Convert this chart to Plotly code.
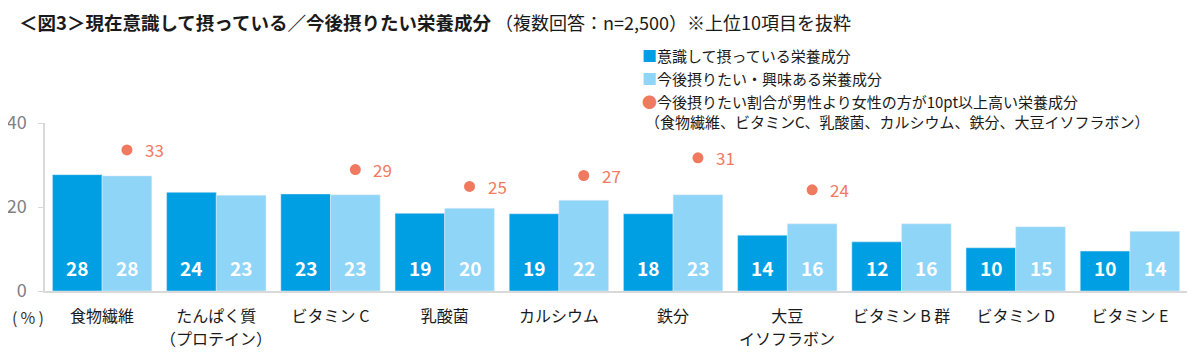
import plotly.graph_objects as go

categories = ["食物繊維", "たんぱく質（プロテイン）", "ビタミンC", "乳酸菌", "カルシウム",
              "鉄分", "大豆イソフラボン", "ビタミンB群", "ビタミンD", "ビタミンE"]
tick_labels = ["食物繊維", "たんぱく質", "ビタミン C", "乳酸菌", "カルシウム",
               "鉄分", "大豆", "ビタミン B 群", "ビタミン D", "ビタミン E"]
tick_labels_line2 = ["", "（プロテイン）", "", "", "", "", "イソフラボン", "", "", ""]
current_vals = [27.7, 23.5, 23.1, 18.5, 18.4, 18.4, 13.3, 11.7, 10.3, 9.5]
current_labels = [28, 24, 23, 19, 19, 18, 14, 12, 10, 10]
future_vals = [27.4, 22.8, 22.9, 19.7, 21.6, 22.9, 16.0, 16.0, 15.3, 14.2]
future_labels = [28, 23, 23, 20, 22, 23, 16, 16, 15, 14]
dot_index = [0, 2, 3, 4, 5, 6]
dot_vals = [33.6, 28.9, 24.9, 27.5, 31.7, 24.1]
dot_labels = [33, 29, 25, 27, 31, 24]

DARK = "#009FE3"
LIGHT = "#8FD5F7"
SALMON = "#F07A5F"
FONT = "Noto Sans CJK JP"
BARGAP = 0.13

# page body has an 8px default margin; work in screenshot coordinates and subtract it
OFF = 8
W, H = 1200 - OFF, 358 - OFF
L, T = 45 - OFF, 122.7 - OFF
R = W - (1187 - OFF)
B = H - (290.7 - OFF)
PW, PH = W - L - R, H - T - B


def px(xs):
    return (xs - OFF - L) / PW


def py(ys):
    return 1 - (ys - OFF - T) / PH


x = list(range(len(categories)))
fig = go.Figure()
fig.add_trace(go.Bar(x=x, y=current_vals, marker_color=DARK, name="意識して摂っている栄養成分"))
fig.add_trace(go.Bar(x=x, y=future_vals, marker_color=LIGHT, name="今後摂りたい・興味ある栄養成分"))

off = (1 - BARGAP) / 4
dot_x = [i + off for i in dot_index]
fig.add_trace(go.Scatter(x=dot_x, y=dot_vals, mode="markers",
                         marker=dict(color=SALMON, size=11), showlegend=False))

for i in x:
    for xx, lab in ((i - off, current_labels[i]), (i + off, future_labels[i])):
        fig.add_annotation(x=xx, y=5.6, text=f"<b>{lab}</b>", showarrow=False,
                           font=dict(color="white", size=19, family=FONT), xref="x", yref="y")
    if tick_labels_line2[i]:
        fig.add_annotation(x=i, xref="x", y=py(338), yref="paper", text=tick_labels_line2[i],
                           showarrow=False, yanchor="middle",
                           font=dict(size=16, color="#1a1a1a", family=FONT))
for xi, yv, lb in zip(dot_x, dot_vals, dot_labels):
    fig.add_annotation(x=xi, y=yv, text=str(lb), showarrow=False, xanchor="left", xshift=16,
                       font=dict(color=SALMON, size=17, family=FONT), xref="x", yref="y")

fig.add_annotation(xref="paper", yref="paper", x=px(18), y=1 + T / PH,
                   xanchor="left", yanchor="top", showarrow=False, borderpad=0,
                   text="<b>＜図3＞現在意識して摂っている／今後摂りたい栄養成分</b>"
                        "<span style='font-size:18px'> （複数回答：n=2,500）※上位10項目を抜粋</span>",
                   font=dict(size=18.5, color="#1a1a1a", family=FONT))

legend_lines = [
    ("<span style='color:%s'>■</span>意識して摂っている栄養成分" % DARK, 55, 640),
    ("<span style='color:%s'>■</span>今後摂りたい・興味ある栄養成分" % LIGHT, 78, 640),
    ("<span style='color:%s'>●</span>今後摂りたい割合が男性より女性の方が10pt以上高い栄養成分" % SALMON, 101, 640),
    ("（食物繊維、ビタミンC、乳酸菌、カルシウム、鉄分、大豆イソフラボン）", 121, 643),
]
for txt, ys, xs in legend_lines:
    fig.add_annotation(xref="paper", yref="paper", x=px(xs), y=py(ys),
                       xanchor="left", yanchor="middle", showarrow=False, text=txt,
                       font=dict(size=15, color="#1a1a1a", family=FONT))

fig.add_annotation(xref="paper", yref="paper", x=px(10), y=py(317),
                   xanchor="left", yanchor="middle", showarrow=False, text="(\u2009%\u2009)",
                   font=dict(size=16, color="#333333", family=FONT))

fig.update_layout(
    width=W, height=H,
    margin=dict(l=L, r=R, t=T, b=B),
    plot_bgcolor="white", paper_bgcolor="white",
    barmode="group", bargap=BARGAP, bargroupgap=0,
    showlegend=False,
    font=dict(family=FONT),
    xaxis=dict(tickmode="array", tickvals=x, ticktext=tick_labels, range=[-0.5, 9.5],
               showline=True, linecolor="#D9D9D9", linewidth=1.5, ticks="",
               tickfont=dict(size=16, color="#1a1a1a", family=FONT), ticklabelstandoff=10,
               showgrid=False, zeroline=False, automargin=False),
    yaxis=dict(range=[0, 40], tickvals=[0, 20, 40], showgrid=False, zeroline=False,
               showline=True, linecolor="#D9D9D9", linewidth=1.5, ticks="outside", ticklen=5,
               tickcolor="#D9D9D9", tickfont=dict(size=18, color="#808080", family=FONT),
               ticklabelstandoff=8, automargin=False),
)

fig.write_html("out.html")
